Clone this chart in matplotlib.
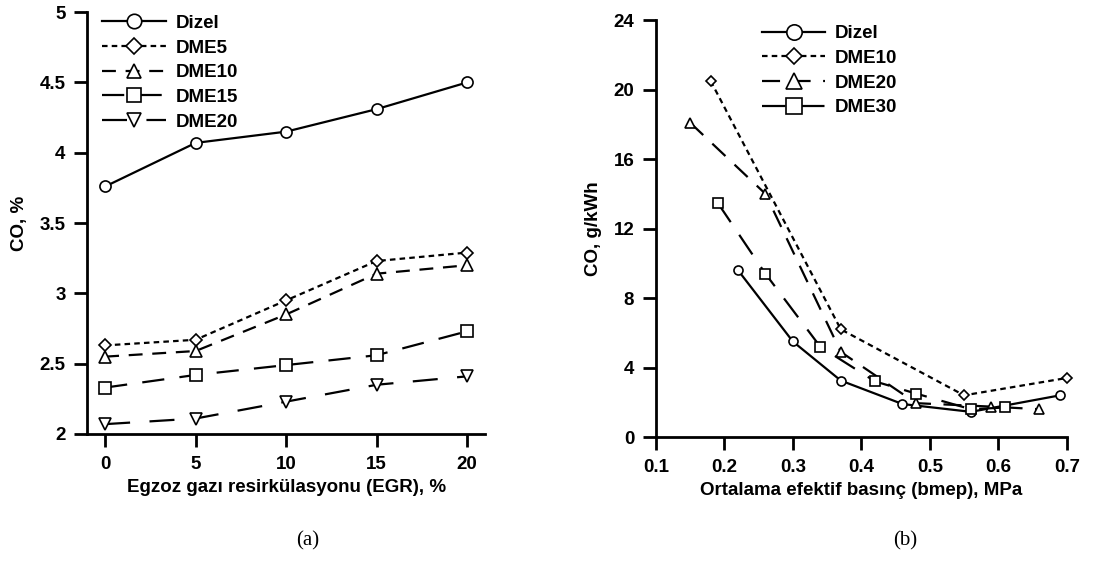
import matplotlib

matplotlib.use("Agg")
import matplotlib.pyplot as plt

plt.rcParams["font.family"] = ["Liberation Sans", "DejaVu Sans"]
plt.rcParams["font.weight"] = "bold"
plt.rcParams["lines.scale_dashes"] = False

# (a) CO vs EGR
egr = [0, 5, 10, 15, 20]
co_dizel = [3.76, 4.07, 4.15, 4.31, 4.50]
co_dme5 = [2.63, 2.67, 2.95, 3.23, 3.29]
co_dme10 = [2.55, 2.59, 2.85, 3.14, 3.20]
co_dme15 = [2.33, 2.42, 2.49, 2.56, 2.73]
co_dme20 = [2.07, 2.11, 2.23, 2.35, 2.41]
a_yticks = [2, 2.5, 3, 3.5, 4, 4.5, 5]
a_ylabels = ["2", "2.5", "3", "3.5", "4", "4.5", "5"]

# (b) CO vs bmep
b_dizel_x = [0.22, 0.30, 0.37, 0.46, 0.56, 0.69]
b_dizel_y = [9.6, 5.5, 3.25, 1.9, 1.45, 2.4]
b_dme10_x = [0.18, 0.37, 0.55, 0.70]
b_dme10_y = [20.5, 6.2, 2.4, 3.4]
b_dme20_x = [0.15, 0.26, 0.37, 0.48, 0.59, 0.66]
b_dme20_y = [18.1, 14.0, 4.9, 1.95, 1.75, 1.6]
b_dme30_x = [0.19, 0.26, 0.34, 0.42, 0.48, 0.56, 0.61]
b_dme30_y = [13.5, 9.4, 5.2, 3.2, 2.5, 1.6, 1.7]
b_xticks = [0.1, 0.2, 0.3, 0.4, 0.5, 0.6, 0.7]
b_yticks = [0, 4, 8, 12, 16, 20, 24]


def style_axes(ax):
    for side in ("top", "right"):
        ax.spines[side].set_visible(False)
    for side in ("left", "bottom"):
        ax.spines[side].set_linewidth(2)
    ax.tick_params(direction="out", length=9.5, width=2, labelsize=13.5, pad=6)
    for lab in ax.get_xticklabels() + ax.get_yticklabels():
        lab.set_fontweight("bold")


fig = plt.figure(figsize=(11.06, 5.61), dpi=100)

ax1 = fig.add_axes([0.0787, 0.2264, 0.360, 0.752])
mk = dict(color="black", mfc="white", mec="black", ms=8, mew=1.2, lw=1.6, clip_on=False)
ax1.plot(egr, co_dizel, marker="o", ls="-", label="Dizel", **mk)
ax1.plot(egr, co_dme5, marker="D", ls=(0, (4, 3)), label="DME5", **{**mk, "ms": 6.5})
ax1.plot(egr, co_dme10, marker="^", ls=(0, (10, 7)), label="DME10", **mk)
ax1.plot(egr, co_dme15, marker="s", ls=(0, (16, 11)), label="DME15", **mk)
ax1.plot(egr, co_dme20, marker="v", ls=(0, (18, 14)), label="DME20", **mk)
ax1.set_xlim(-1, 21)
ax1.set_ylim(2, 5)
ax1.set_xticks(egr)
ax1.set_yticks(a_yticks)
ax1.set_yticklabels(a_ylabels)
ax1.set_xlabel("Egzoz gazı resirkülasyonu (EGR), %", fontsize=13.5, fontweight="bold", labelpad=5)
ax1.set_ylabel("CO, %", fontsize=13.5, fontweight="bold", labelpad=8)
style_axes(ax1)
leg1 = ax1.legend(loc="upper left", bbox_to_anchor=(0.01, 1.02), frameon=False,
                  fontsize=13.5, handlelength=3.4, handletextpad=0.5, labelspacing=0.4,
                  markerscale=1.3, borderaxespad=0.2)
for t in leg1.get_texts():
    t.set_fontweight("bold")

ax2 = fig.add_axes([0.593, 0.221, 0.3716, 0.743])
mk2 = dict(color="black", mfc="white", mec="black", ms=6.5, mew=1.2, lw=1.6, clip_on=False)
ax2.plot(b_dizel_x, b_dizel_y, marker="o", ls="-", label="Dizel", **mk2)
ax2.plot(b_dme10_x, b_dme10_y, marker="D", ls=(0, (4, 3)), label="DME10", **{**mk2, "ms": 5})
ax2.plot(b_dme20_x, b_dme20_y, marker="^", ls=(0, (13, 9)), label="DME20", **mk2)
ax2.plot(b_dme30_x, b_dme30_y, marker="s", ls=(0, (17, 11)), label="DME30", **mk2)
ax2.set_xlim(0.1, 0.7)
ax2.set_ylim(0, 24)
ax2.set_xticks(b_xticks)
ax2.set_xticklabels([f"{v:.1f}" for v in b_xticks])
ax2.set_yticks(b_yticks)
ax2.set_xlabel("Ortalama efektif basınç (bmep), MPa", fontsize=13.5, fontweight="bold", labelpad=5)
ax2.set_ylabel("CO, g/kWh", fontsize=13.5, fontweight="bold", labelpad=8)
style_axes(ax2)
leg2 = ax2.legend(loc="upper left", bbox_to_anchor=(0.23, 1.015), frameon=False,
                  fontsize=13.5, handlelength=3.4, handletextpad=0.5, labelspacing=0.4,
                  markerscale=1.7, borderaxespad=0.2)
for t in leg2.get_texts():
    t.set_fontweight("bold")

fig.text(308 / 1106, 1 - 541 / 561, "(a)", family="Liberation Serif", fontsize=15,
         fontweight="normal", ha="center", va="center")
fig.text(905 / 1106, 1 - 541 / 561, "(b)", family="Liberation Serif", fontsize=15,
         fontweight="normal", ha="center", va="center")

fig.savefig("out.png", dpi=100)
plt.close(fig)
